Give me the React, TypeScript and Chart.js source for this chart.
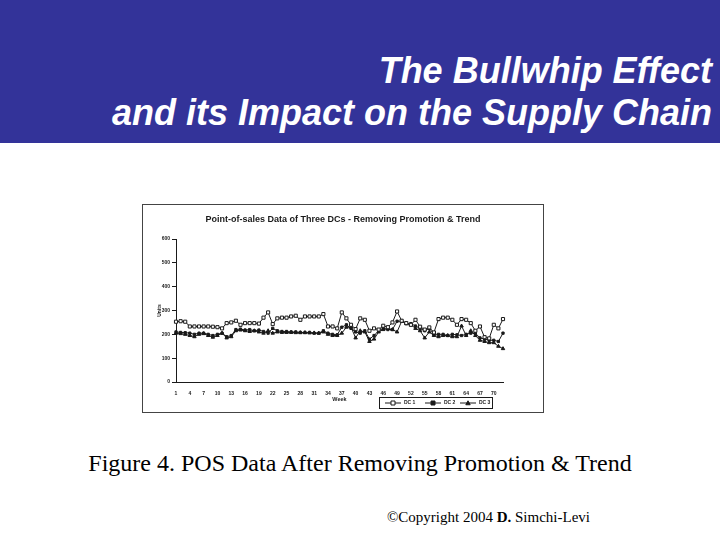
import React, { useEffect, useRef } from 'react';
import { Chart, registerables } from 'chart.js';

Chart.register(...registerables);

const WEEKS = ['1','2','3','4','5','6','7','8','9','10','11','12','13','14','15','16','17','18','19','20','21','22','23','24','25','26','27','28','29','30','31','32','33','34','35','36','37','38','39','40','41','42','43','44','45','46','47','48','49','50','51','52','53','54','55','56','57','58','59','60','61','62','63','64','65','66','67','68','69','70','71','72'];
const SHOWN_WEEK_LABELS = ['1','4','7','10','13','16','19','22','25','28','31','34','37','40','43','46','49','52','55','58','61','64','67','70'];
const Y_TICKS = [0, 100, 200, 300, 400, 500, 600];

const DC1 = [253,255,253,233,233,233,233,233,232,230,225,247,250,257,240,247,247,247,245,270,292,243,267,270,270,275,278,261,275,275,275,275,285,233,233,225,292,267,240,222,267,261,215,225,220,236,230,250,296,257,247,240,261,232,220,229,208,264,270,270,261,240,264,261,247,215,233,188,183,240,225,264];
const DC2 = [210,208,207,205,200,205,205,200,195,200,205,190,195,220,222,218,220,215,218,212,205,225,215,212,212,210,210,208,208,208,205,205,215,205,200,198,230,240,225,210,205,215,180,195,215,225,220,220,255,255,245,245,235,225,215,225,200,200,200,195,200,198,195,200,205,205,185,180,175,175,170,205];
const DC3 = [205,203,200,195,190,200,203,195,188,195,205,185,190,215,218,215,212,215,210,205,215,205,210,208,208,208,207,207,207,206,206,205,210,200,195,195,205,230,230,185,215,210,170,180,210,220,225,220,210,255,245,240,225,215,185,210,195,190,195,195,190,190,235,195,215,195,175,170,165,165,150,140];
const SERIES_LABELS = ['DC 1', 'DC 2', 'DC 3'];

const INK = '#1a1a1a';
const FONT = "'Liberation Sans', Arial, sans-serif";

function drawMarker(ctx: CanvasRenderingContext2D, style: string, x: number, y: number, r: number, fill: string) {
  ctx.beginPath();
  if (style === 'triangle') {
    ctx.moveTo(x, y - r);
    ctx.lineTo(x + r, y + r * 0.8);
    ctx.lineTo(x - r, y + r * 0.8);
    ctx.closePath();
  } else {
    ctx.rect(x - r, y - r, r * 2, r * 2);
  }
  ctx.fillStyle = fill;
  ctx.fill();
  ctx.strokeStyle = INK;
  ctx.lineWidth = 1;
  ctx.stroke();
}

const boxLegend = {
  id: 'boxLegend',
  afterDraw(chart: any) {
    const ctx: CanvasRenderingContext2D = chart.ctx;
    const ca = chart.chartArea;
    const x0 = ca.left + 203;
    const y0 = ca.bottom + 15;
    const w = 113;
    const h = 11;
    ctx.save();
    ctx.strokeStyle = INK;
    ctx.lineWidth = 1;
    ctx.strokeRect(Math.round(x0) + 0.5, Math.round(y0) + 0.5, w, h);
    const starts = [6, 46, 81];
    const cy = Math.round(y0) + 6;
    chart.data.datasets.forEach((ds: any, i: number) => {
      const sx = x0 + starts[i];
      ctx.strokeStyle = INK;
      ctx.lineWidth = 1;
      ctx.beginPath();
      ctx.moveTo(sx, cy);
      ctx.lineTo(sx + 16, cy);
      ctx.stroke();
      drawMarker(ctx, ds.pointStyle, sx + 8, cy, ds.pointStyle === 'triangle' ? 2.2 : 2, ds.pointBackgroundColor);
      ctx.fillStyle = INK;
      ctx.font = `bold 5px ${FONT}`;
      ctx.textBaseline = 'middle';
      ctx.textAlign = 'left';
      ctx.fillText(ds.label, sx + 19, cy);
    });
    ctx.restore();
  },
};

function POSChart() {
  const ref = useRef<HTMLCanvasElement | null>(null);
  useEffect(() => {
    if (!ref.current) return;
    const chart = new Chart(ref.current, {
      type: 'line',
      data: {
        labels: WEEKS,
        datasets: [
          {
            label: SERIES_LABELS[0],
            data: DC1,
            borderColor: INK,
            borderWidth: 1,
            pointStyle: 'rect',
            pointRadius: 2.2,
            pointBackgroundColor: '#ffffff',
            pointBorderColor: INK,
            pointBorderWidth: 1,
            tension: 0,
          },
          {
            label: SERIES_LABELS[1],
            data: DC2,
            borderColor: INK,
            borderWidth: 1,
            pointStyle: 'rect',
            pointRadius: 1.6,
            pointBackgroundColor: INK,
            pointBorderColor: INK,
            pointBorderWidth: 1,
            tension: 0,
          },
          {
            label: SERIES_LABELS[2],
            data: DC3,
            borderColor: INK,
            borderWidth: 1,
            pointStyle: 'triangle',
            pointRadius: 2,
            pointBackgroundColor: INK,
            pointBorderColor: INK,
            pointBorderWidth: 1,
            tension: 0,
          },
        ] as any,
      },
      options: {
        animation: false,
        responsive: false,
        maintainAspectRatio: false,
        layout: { padding: { left: 0, right: 0, top: 0, bottom: 0 } },
        plugins: {
          legend: { display: false },
          tooltip: { enabled: false },
          title: {
            display: true,
            text: 'Point-of-sales Data of Three DCs - Removing Promotion & Trend',
            color: INK,
            font: { family: FONT, size: 9, weight: 'bold' },
            padding: { top: 9, bottom: 14.2 },
          },
        },
        scales: {
          x: {
            type: 'category',
            offset: false,
            grid: { display: false },
            border: { display: true, color: INK, width: 1 },
            ticks: {
              autoSkip: false,
              maxRotation: 0,
              minRotation: 0,
              padding: 1,
              color: INK,
              font: { family: FONT, size: 5, weight: 'bold' },
              callback: (_v: any, i: number) => (SHOWN_WEEK_LABELS.includes(WEEKS[i]) ? WEEKS[i] : ''),
            },
            title: {
              display: true,
              text: 'Week',
              color: INK,
              font: { family: FONT, size: 5.5, weight: 'bold' },
              padding: { top: 0, bottom: 9.7 },
            },
            afterFit: (s: any) => { s.height = 30; s.paddingRight = 40; },
          },
          y: {
            min: Y_TICKS[0],
            max: Y_TICKS[Y_TICKS.length - 1],
            grid: { display: true, drawOnChartArea: false, drawTicks: true, tickLength: 4, color: INK },
            border: { display: true, color: INK, width: 1 },
            ticks: {
              stepSize: 100,
              padding: 2,
              color: INK,
              font: { family: FONT, size: 5, weight: 'bold' },
            },
            title: {
              display: true,
              text: 'Units',
              color: INK,
              font: { family: FONT, size: 5, weight: 'bold' },
              padding: { top: 14, bottom: 0 },
            },
            afterFit: (s: any) => { s.width = 33; },
          },
        },
      } as any,
      plugins: [boxLegend],
    });
    return () => chart.destroy();
  }, []);
  return <canvas ref={ref} width={400} height={207} style={{ display: 'block', width: 400, height: 207 }} />;
}

export default function App() {
  return (
    <div style={{ position: 'fixed', left: 0, top: 0, width: 720, height: 540, background: '#ffffff', overflow: 'hidden' }}>
      <div style={{ position: 'absolute', left: 0, top: 0, width: 720, height: 143, background: '#333399' }} />
      <div
        style={{
          position: 'absolute',
          right: 8,
          top: 49.5,
          textAlign: 'right',
          color: '#ffffff',
          fontFamily: FONT,
          fontWeight: 'bold',
          fontStyle: 'italic',
          fontSize: 36,
          lineHeight: '42px',
          whiteSpace: 'nowrap',
        }}
      >
        <div>The Bullwhip Effect</div>
        <div>and its Impact on the Supply Chain</div>
      </div>
      <div style={{ position: 'absolute', left: 142, top: 204, width: 400, height: 207, border: '1px solid #444' }}>
        <POSChart />
      </div>
      <div
        style={{
          position: 'absolute',
          left: 0,
          width: 720,
          top: 451,
          textAlign: 'center',
          fontFamily: "'Liberation Serif', 'Times New Roman', serif",
          fontSize: 24,
          lineHeight: '24px',
          color: '#000',
          whiteSpace: 'nowrap',
        }}
      >
        Figure 4. POS Data After Removing Promotion &amp; Trend
      </div>
      <div
        style={{
          position: 'absolute',
          right: 130,
          top: 510,
          fontFamily: "'Liberation Serif', 'Times New Roman', serif",
          fontSize: 15,
          lineHeight: '15px',
          color: '#000',
          whiteSpace: 'nowrap',
        }}
      >
        ©Copyright 2004 <b>D.</b> Simchi-Levi
      </div>
    </div>
  );
}
